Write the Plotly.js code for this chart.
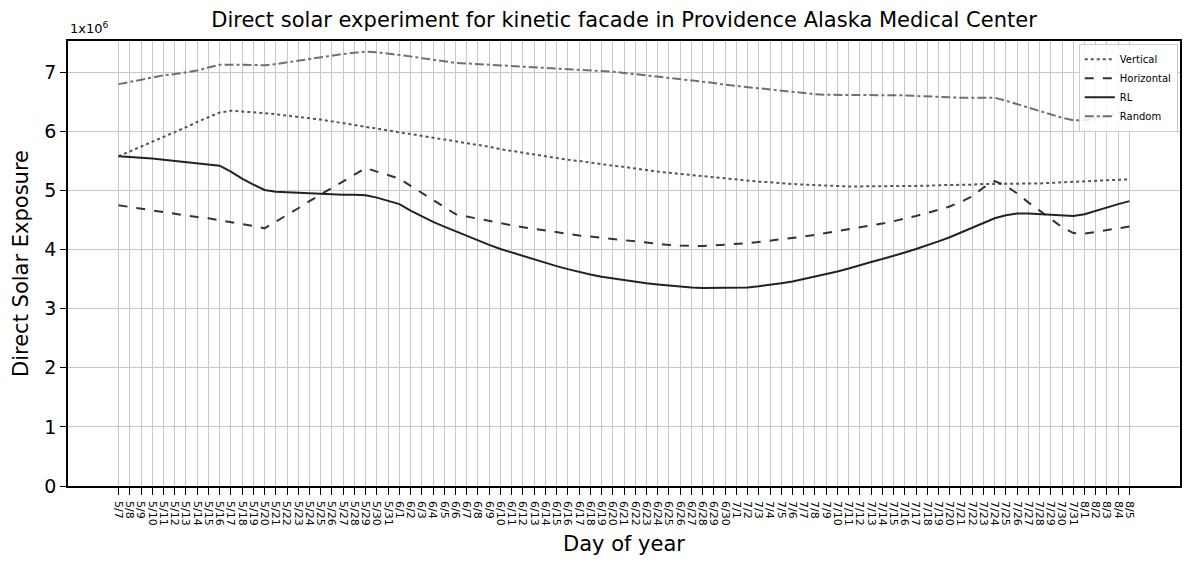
<!DOCTYPE html>
<html>
<head>
<meta charset="utf-8">
<script src="https://cdn.plot.ly/plotly-3.0.1.min.js"></script>
<style>
  html, body { margin: 0; padding: 0; background: #fff; }
  #chart { width: 1193px; height: 566px; }
</style>
</head>
<body>
<div id="chart"></div>
<script>
// day labels, 5/7 .. 8/5
var days = [
  '5/7','5/8','5/9','5/10','5/11','5/12','5/13','5/14','5/15','5/16','5/17','5/18','5/19','5/20',
  '5/21','5/22','5/23','5/24','5/25','5/26','5/27','5/28','5/29','5/30','5/31',
  '6/1','6/2','6/3','6/4','6/5','6/6','6/7','6/8','6/9','6/10','6/11','6/12','6/13','6/14','6/15',
  '6/16','6/17','6/18','6/19','6/20','6/21','6/22','6/23','6/24','6/25','6/26','6/27','6/28','6/29','6/30',
  '7/1','7/2','7/3','7/4','7/5','7/6','7/7','7/8','7/9','7/10','7/11','7/12','7/13','7/14','7/15',
  '7/16','7/17','7/18','7/19','7/20','7/21','7/22','7/23','7/24','7/25','7/26','7/27','7/28','7/29','7/30','7/31',
  '8/1','8/2','8/3','8/4','8/5'
];

// direct solar exposure, x 10^6
var vertical = [
  5.58, 5.66, 5.74, 5.83, 5.91, 5.99, 6.07, 6.16, 6.24, 6.32,
  6.35, 6.34, 6.33, 6.31,
  6.29, 6.27, 6.25, 6.22, 6.20, 6.17, 6.14, 6.11, 6.07,
  6.04, 6.01, 5.98, 5.95, 5.92, 5.89, 5.86, 5.83,
  5.80, 5.77, 5.74, 5.70, 5.67, 5.64, 5.60, 5.57, 5.55, 5.52, 5.50, 5.47, 5.45, 5.42,
  5.40, 5.37, 5.35, 5.32, 5.30, 5.28, 5.26, 5.24, 5.22, 5.20,
  5.19, 5.17, 5.15, 5.14, 5.12, 5.11, 5.10, 5.09, 5.08, 5.08, 5.07, 5.07,
  5.07, 5.07, 5.07, 5.08, 5.08, 5.08, 5.09, 5.09, 5.10, 5.10, 5.11, 5.11,
  5.11, 5.11, 5.12, 5.12, 5.13, 5.14, 5.14, 5.15, 5.16, 5.17, 5.18, 5.19
];

var horizontal = [
  4.75, 4.72, 4.69, 4.67, 4.64, 4.61, 4.58, 4.55, 4.53, 4.50,
  4.47, 4.43, 4.40, 4.36,
  4.47, 4.59, 4.70, 4.82, 4.93, 5.04, 5.15, 5.27, 5.38,
  5.32, 5.26, 5.20,
  5.08, 4.96, 4.84, 4.72, 4.60,
  4.56, 4.52, 4.48, 4.44, 4.41, 4.38, 4.35, 4.32, 4.29, 4.27, 4.24, 4.22, 4.20, 4.18,
  4.16, 4.14, 4.11, 4.09, 4.08, 4.07, 4.06, 4.06, 4.07, 4.08,
  4.09, 4.11, 4.13, 4.15, 4.17, 4.20, 4.22, 4.25, 4.28, 4.31, 4.34, 4.37,
  4.40, 4.44, 4.48, 4.52, 4.57, 4.62, 4.67, 4.73, 4.81, 4.90, 5.05, 5.16,
  5.08, 4.95, 4.80, 4.66, 4.52, 4.38, 4.28,
  4.27, 4.30, 4.33, 4.36, 4.39
];

var rl = [
  5.58, 5.57, 5.56, 5.54, 5.52, 5.50, 5.48, 5.46, 5.44, 5.42,
  5.32, 5.20, 5.10, 5.01,
  4.98, 4.97, 4.96, 4.96, 4.95, 4.94, 4.93, 4.93, 4.92,
  4.88, 4.83, 4.77,
  4.66, 4.56, 4.47, 4.39, 4.31,
  4.23, 4.15, 4.08, 4.01, 3.95, 3.89, 3.83, 3.77, 3.72, 3.67, 3.62, 3.58, 3.54, 3.51,
  3.48, 3.45, 3.43, 3.41, 3.39, 3.37, 3.36, 3.35, 3.35, 3.35,
  3.35, 3.36, 3.38, 3.40, 3.43, 3.46, 3.50, 3.54, 3.58, 3.63, 3.68, 3.74,
  3.79, 3.84, 3.89, 3.95, 4.01, 4.07, 4.14, 4.21, 4.29, 4.37, 4.45, 4.53,
  4.58, 4.61, 4.61, 4.60, 4.60, 4.59, 4.57,
  4.60, 4.66, 4.72, 4.77, 4.82
];

var random = [
  6.80, 6.84, 6.88, 6.92, 6.95, 6.97, 7.00, 7.03, 7.08, 7.13,
  7.13, 7.13, 7.12, 7.12,
  7.14, 7.17, 7.20, 7.23, 7.26, 7.29, 7.31, 7.33, 7.35,
  7.34, 7.32, 7.30,
  7.27, 7.24, 7.21, 7.18, 7.16,
  7.15, 7.14, 7.13, 7.12, 7.11, 7.10, 7.09, 7.08, 7.07, 7.06, 7.05, 7.04, 7.02, 7.01,
  6.99, 6.97, 6.95, 6.93, 6.91, 6.89, 6.87, 6.84, 6.82, 6.79, 6.77, 6.75, 6.72, 6.70, 6.68, 6.66, 6.64, 6.63,
  6.62, 6.62, 6.62, 6.62, 6.62, 6.62, 6.62, 6.61, 6.60, 6.59, 6.58, 6.58,
  6.57, 6.57, 6.57, 6.57,
  6.52, 6.46, 6.40, 6.34, 6.28, 6.23, 6.19,
  6.19, 6.22, 6.26, 6.31, 6.36
];

var font = 'DejaVu Sans, Liberation Sans, sans-serif';

var trace1 = {
  x: days, y: vertical, name: 'Vertical', type: 'scatter', mode: 'lines',
  line: { color: '#555555', width: 2, dash: 'dot' }
};
var trace2 = {
  x: days, y: horizontal, name: 'Horizontal', type: 'scatter', mode: 'lines',
  line: { color: '#333333', width: 2, dash: 'dash' }
};
var trace3 = {
  x: days, y: rl, name: 'RL', type: 'scatter', mode: 'lines',
  line: { color: '#222222', width: 2 }
};
var trace4 = {
  x: days, y: random, name: 'Random', type: 'scatter', mode: 'lines',
  line: { color: '#707070', width: 2, dash: 'dashdot' }
};

var layout = {
  width: 1193,
  height: 566,
  margin: { l: 68, r: 13, t: 41, b: 80 },
  paper_bgcolor: '#ffffff',
  plot_bgcolor: '#ffffff',
  font: { family: font, color: '#000' },
  title: {
    text: 'Direct solar experiment for kinetic facade in Providence Alaska Medical Center',
    font: { size: 21, family: font, color: '#000' },
    x: 0.5, xref: 'paper', y: 0.965, yanchor: 'middle'
  },
  xaxis: {
    type: 'category',
    range: [-4.5, 94.5],
    tickmode: 'linear', dtick: 1,
    tickangle: 90,
    tickfont: { size: 11, family: font, color: '#000' },
    ticks: 'outside', ticklen: 7, tickcolor: '#000',
    ticklabelstandoff: 4,
    showgrid: true, gridcolor: '#c8c8c8', gridwidth: 1,
    showline: true, linecolor: '#000', linewidth: 1.5, mirror: true,
    zeroline: false,
    title: { text: 'Day of year', font: { size: 21, family: font }, standoff: 12 }
  },
  yaxis: {
    range: [0, 7.53],
    tickvals: [0, 1, 2, 3, 4, 5, 6, 7],
    tickfont: { size: 19, family: font, color: '#000' },
    ticks: 'outside', ticklen: 6, tickcolor: '#000',
    showgrid: true, gridcolor: '#c8c8c8', gridwidth: 1,
    showline: true, linecolor: '#000', linewidth: 1.5, mirror: true,
    zeroline: false,
    title: { text: 'Direct Solar Exposure', font: { size: 21, family: font }, standoff: 10 }
  },
  legend: {
    x: 0.998, y: 0.994, xanchor: 'right', yanchor: 'top',
    bgcolor: 'rgba(255,255,255,0.85)',
    bordercolor: '#cccccc', borderwidth: 1,
    font: { size: 10, family: font, color: '#000' },
    itemwidth: 30,
    tracegroupgap: 0
  },
  annotations: [{
    text: '1x10<sup>6</sup>',
    xref: 'paper', yref: 'paper', x: 0, y: 1,
    xanchor: 'left', yanchor: 'bottom', yshift: 3,
    showarrow: false,
    font: { size: 13, family: font, color: '#000' }
  }]
};

var data = [trace1, trace2, trace3, trace4];

Plotly.newPlot('chart', data, layout, { displayModeBar: false });
</script>
</body>
</html>
